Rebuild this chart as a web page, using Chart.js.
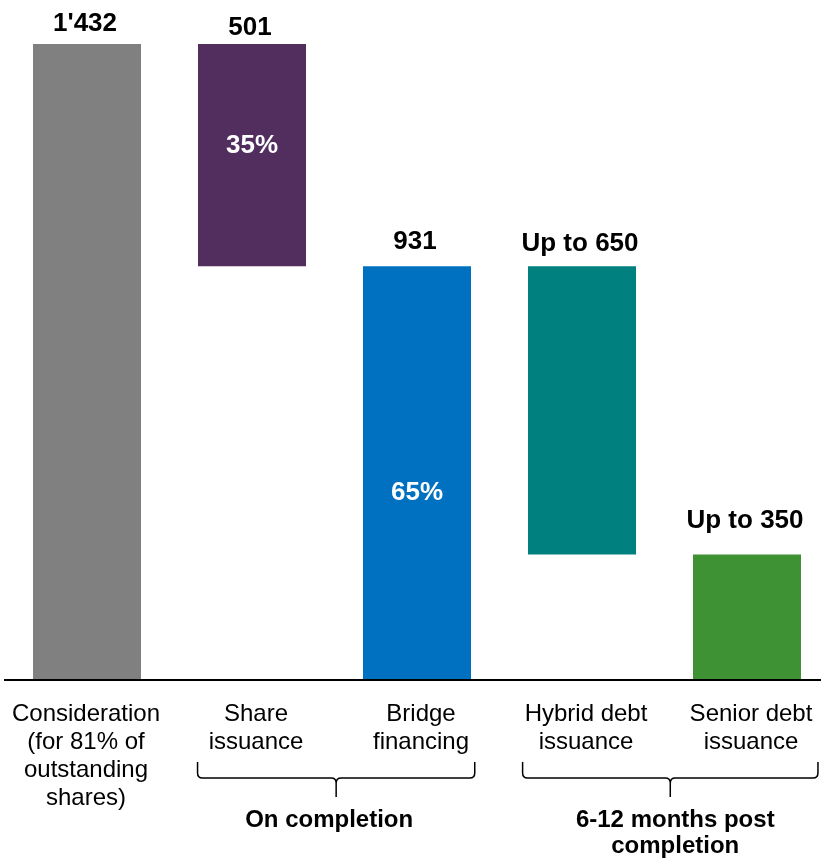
<!DOCTYPE html>
<html>
<head>
<meta charset="utf-8">
<script src="https://cdn.jsdelivr.net/npm/chart.js@4"></script>
<style>
    html, body { margin: 0; padding: 0; background: #fff; overflow: hidden; }
    #wrap { width: 835px; height: 859px; }
</style>
</head>
<body>
<div id="wrap"><canvas id="fundingChart" width="835" height="859"></canvas></div>
<script>
// 카테고리 (여러 줄 라벨)
const categories = [
    ['Consideration', '(for 81% of', 'outstanding', 'shares)'],
    ['Share', 'issuance'],
    ['Bridge', 'financing'],
    ['Hybrid debt', 'issuance'],
    ['Senior debt', 'issuance']
];

// 막대 시작/끝 값 (폭포형)
const barLow = [0, 931, 0, 281, 0];
const barHigh = [1432, 1432, 931, 931, 281];

// 막대 위 라벨, 막대 안 비율
const valueLabels = ["1'432", '501', '931', 'Up to 650', 'Up to 350'];
const shareLabels = ['', '35%', '65%', '', ''];

const barColors = ['#808080', '#522E5E', '#0070C0', '#00807F', '#3F9233'];

// 그룹 (괄호)
const groupLabels = [['On completion'], ['6-12 months post', 'completion']];
const groupStart = [1, 3];
const groupEnd = [2, 4];

const FONT = '"Liberation Sans", Arial, sans-serif';

// 라벨, 기준선, 괄호 그리기
const annotate = {
    id: 'annotate',
    afterDatasetsDraw(chart) {
        const ctx = chart.ctx;
        const meta = chart.getDatasetMeta(0);
        const area = chart.chartArea;
        const xs = chart.scales.x;

        ctx.save();

        // 기준선
        ctx.strokeStyle = '#000';
        ctx.lineWidth = 2;
        ctx.beginPath();
        ctx.moveTo(4, area.bottom + 1);
        ctx.lineTo(835, area.bottom + 1);
        ctx.stroke();

        ctx.textAlign = 'center';
        ctx.textBaseline = 'alphabetic';

        const gaps = [13, 9, 17, 15, 26];
        meta.data.forEach((bar, i) => {
            const top = Math.min(bar.y, bar.base);
            const bottom = Math.max(bar.y, bar.base);

            ctx.fillStyle = '#000';
            ctx.font = 'bold 26px ' + FONT;
            ctx.fillText(valueLabels[i], bar.x - 2, top - gaps[i]);

            if (shareLabels[i]) {
                const frac = i === 1 ? 0.46 : 0.55;
                ctx.fillStyle = '#fff';
                ctx.textBaseline = 'middle';
                ctx.fillText(shareLabels[i], bar.x, top + (bottom - top) * frac);
                ctx.textBaseline = 'alphabetic';
            }

            ctx.fillStyle = '#000';
            ctx.font = '24px ' + FONT;
            categories[i].forEach((line, k) => {
                ctx.fillText(line, bar.x + (i === 0 ? -1 : 4), area.bottom + 42 + k * 28);
            });
        });

        // 괄호
        const padL = [0.33, 0.36];
        const padR = [0.35, 0.43];
        groupLabels.forEach((lines, g) => {
            const x0 = xs.getPixelForValue(groupStart[g]) - padL[g] * 165;
            const x1 = xs.getPixelForValue(groupEnd[g]) + padR[g] * 165;
            const xm = (x0 + x1) / 2;
            const yTop = area.bottom + 83;
            const yMid = area.bottom + 99;
            const yTip = area.bottom + 118;
            const r = 5;

            ctx.strokeStyle = '#000';
            ctx.lineWidth = 1.5;
            ctx.beginPath();
            ctx.moveTo(x0, yTop);
            ctx.lineTo(x0, yMid - r);
            ctx.quadraticCurveTo(x0, yMid, x0 + r, yMid);
            ctx.lineTo(xm - r, yMid);
            ctx.quadraticCurveTo(xm, yMid, xm, yMid + r);
            ctx.lineTo(xm, yTip);
            ctx.moveTo(xm, yMid + r);
            ctx.quadraticCurveTo(xm, yMid, xm + r, yMid);
            ctx.lineTo(x1 - r, yMid);
            ctx.quadraticCurveTo(x1, yMid, x1, yMid - r);
            ctx.lineTo(x1, yTop);
            ctx.stroke();

            ctx.fillStyle = '#000';
            ctx.font = 'bold 24px ' + FONT;
            lines.forEach((line, k) => {
                ctx.fillText(line, xm + (g === 0 ? -7 : 5), area.bottom + 148 + k * 26);
            });
        });

        ctx.restore();
    }
};

const ctx = document.getElementById('fundingChart').getContext('2d');
new Chart(ctx, {
    type: 'bar',
    data: {
        labels: categories.map(c => c.join(' ')),
        datasets: [{
            data: barLow.map((v, i) => [v, barHigh[i]]),
            backgroundColor: barColors,
            borderWidth: 0,
            borderSkipped: false,
            categoryPercentage: 1,
            barPercentage: 108 / 165
        }]
    },
    options: {
        responsive: false,
        animation: false,
        layout: {
            padding: { left: 4.5, right: 5.5, top: 44, bottom: 180 }
        },
        plugins: {
            legend: { display: false },
            tooltip: { enabled: false }
        },
        scales: {
            x: { display: false },
            y: { display: false, min: 0, max: 1432 }
        }
    },
    plugins: [annotate]
});
</script>
</body>
</html>
